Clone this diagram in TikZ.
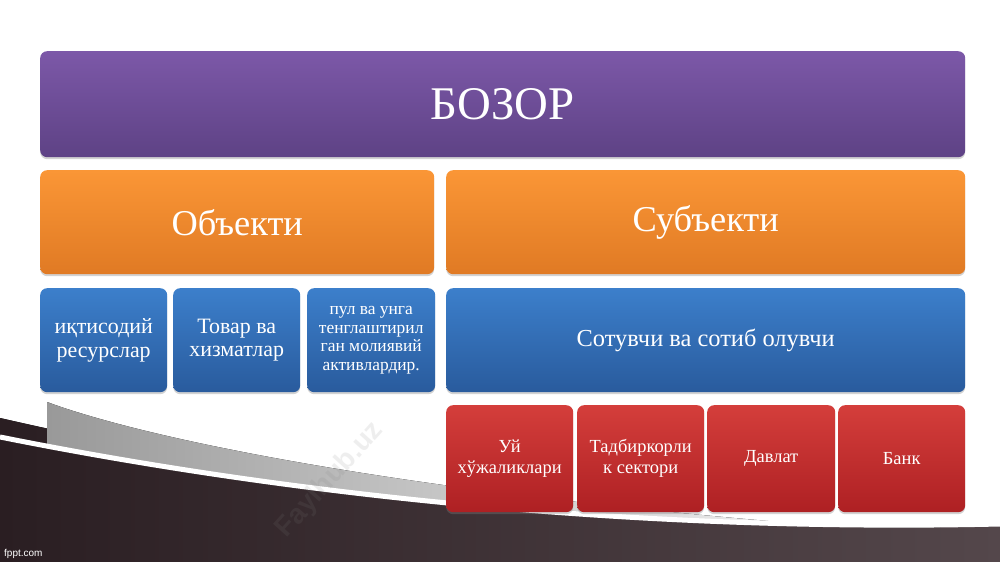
\documentclass[tikz,border=0pt]{standalone}
\usepackage{fontspec}
\setmainfont{Liberation Serif}
\newfontfamily\sansfont{Liberation Sans}
\usepackage{tikz}
\usetikzlibrary{
  shadows,%
  positioning
}
\definecolor{purpletop}{HTML}{7C58A8}
\definecolor{purplebot}{HTML}{5E4285}
\definecolor{orangetop}{HTML}{FA9636}
\definecolor{orangebot}{HTML}{E07A24}
\definecolor{bluetop}{HTML}{3C7FCB}
\definecolor{bluebot}{HTML}{295B9D}
\definecolor{redtop}{HTML}{D43E3B}
\definecolor{redbot}{HTML}{AE2023}
\definecolor{swdark}{HTML}{2A1E22}
\definecolor{swlight}{HTML}{54474B}
\tikzset{
  box/.style={rounded corners=7bp, anchor=north west, text=white, align=center,
    inner sep=2bp, drop shadow={opacity=0.35, shadow xshift=0bp, shadow yshift=-2bp}},
  purplebox/.style={box, top color=purpletop, bottom color=purplebot},
  orangebox/.style={box, top color=orangetop, bottom color=orangebot},
  bluebox/.style={box, top color=bluetop, bottom color=bluebot},
  redbox/.style={box, top color=redtop, bottom color=redbot},
  wm/.style={text=gray, opacity=0.13, font=\sansfont\bfseries\fontsize{28}{30}\selectfont}
}

\begin{document}
\begin{tikzpicture}[x=1bp, y=-1bp]
  \useasboundingbox[fill=white] (0,0) rectangle (1000,562);
  % bottom swoosh
  \fill[left color=swdark, right color=swlight] (0,418) .. controls (250,475) and (600,538) .. (1000,526) -- (1000,562) -- (0,562) -- cycle;
  \begin{scope}
    \clip (0,0) -- (0,437) .. controls (250,487) and (600,533) .. (1000,524) -- (1000,0) -- cycle;
    \fill[left color=gray!80, right color=gray!15] (47,402) .. controls (150,440) and (400,490) .. (780,522) -- (780,560) -- (47,560) -- cycle;
  \end{scope}
  \draw[white, line width=5bp] (0,437) .. controls (250,487) and (600,533) .. (1000,524);
  \node[text=white, font=\sansfont\fontsize{10}{12}\selectfont, anchor=south west, inner sep=0pt] (fppt) at (4,559) {fppt.com};

  % watermark
  \node[wm, rotate=48] (wm) at (330,480) {Faylhub.uz};

  % top level
  \node[purplebox, minimum width=925bp, minimum height=106bp, font=\fontsize{47}{52}\selectfont] (bozor) at (40,51) {БОЗОР};

  \node[orangebox, minimum width=394bp, minimum height=104bp, font=\fontsize{36.5}{42}\selectfont] (obyekt) at (40,170) {Объекти};
  \node[orangebox, minimum width=519bp, minimum height=104bp, font=\fontsize{36.5}{42}\selectfont] (subyekt) at (446,170) {Субъекти};

  % objects
  \node[bluebox, minimum width=127bp, minimum height=104bp, font=\fontsize{22}{24}\selectfont] (resurs) at (40,288) {иқтисодий\\ ресурслар};
  \node[bluebox, minimum width=127bp, minimum height=104bp, font=\fontsize{22}{24}\selectfont] (tovar) at (173,288) {Товар ва\\ хизматлар};
  \node[bluebox, minimum width=128bp, minimum height=104bp, font=\fontsize{17.5}{18.7}\selectfont] (pul) at (307,288) {пул ва унга\\ тенглаштирил\\ ган молиявий\\ активлардир.};

  % subjects
  \node[bluebox, minimum width=519bp, minimum height=104bp, font=\fontsize{24.5}{28}\selectfont] (sotuvchi) at (446,288) {Сотувчи ва сотиб олувчи};
  \node[redbox, minimum width=127bp, minimum height=107bp, font=\fontsize{18.5}{21}\selectfont] (uy) at (446,405) {Уй\\ хўжаликлари};
  \node[redbox, minimum width=127bp, minimum height=107bp, font=\fontsize{18.5}{21}\selectfont] (tadbir) at (577,405) {Тадбиркорли\\ к сектори};
  \node[redbox, minimum width=128bp, minimum height=107bp, font=\fontsize{18.5}{21}\selectfont] (davlat) at (707,405) {Давлат};
  \node[redbox, minimum width=127bp, minimum height=107bp, font=\fontsize{18.5}{21}\selectfont] (bank) at (838,405) {Банк};
\end{tikzpicture}
\end{document}
